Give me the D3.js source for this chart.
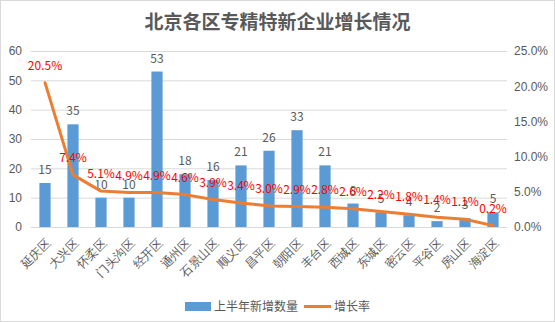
<!DOCTYPE html>
<html>
<head>
<meta charset="utf-8">
<script src="https://cdn.jsdelivr.net/npm/d3@7"></script>
<style>
  html, body { margin: 0; padding: 0; background: #fff; }
  svg { display: block; font-family: "Noto Sans CJK SC", "Noto Sans", sans-serif; }
</style>
</head>
<body>
<svg id="chart" width="555" height="322"></svg>
<script>
const districts = ["延庆区", "大兴区", "怀柔区", "门头沟区", "经开区", "通州区", "石景山区", "顺义区", "昌平区", "朝阳区", "丰台区", "西城区", "东城区", "密云区", "平谷区", "房山区", "海淀区"];
const newCount = [15, 35, 10, 10, 53, 18, 16, 21, 26, 33, 21, 8, 5, 4, 2, 3, 5];
const growthRate = [20.5, 7.4, 5.1, 4.9, 4.9, 4.6, 3.9, 3.4, 3.0, 2.9, 2.8, 2.6, 2.2, 1.8, 1.4, 1.1, 0.2];
const countTicks = [0, 10, 20, 30, 40, 50, 60];
const rateTicks = [0, 5, 10, 15, 20, 25];
const titleText = "北京各区专精特新企业增长情况";
const seriesNames = ["上半年新增数量", "增长率"];

const W = 555, H = 322;
const plot = { left: 31, right: 507, top: 51, bottom: 227 };
const barColor = "#5B9BD5", lineColor = "#ED7D31", textColor = "#595959";

const svg = d3.select("#chart");

svg.append("rect")
  .attr("x", 0.5).attr("y", 0.5).attr("width", W - 1).attr("height", H - 1)
  .attr("fill", "#fff").attr("stroke", "#d9d9d9");

svg.append("text")
  .attr("x", W / 2).attr("y", 29)
  .attr("text-anchor", "middle")
  .attr("font-size", 19).attr("font-weight", "bold")
  .attr("fill", textColor)
  .text(titleText);

const x = d3.scaleBand().domain(districts).range([plot.left, plot.right]).paddingInner(0.6).paddingOuter(0.3);
const xc = d => x(d) + x.bandwidth() / 2;
const yL = d3.scaleLinear().domain([0, 60]).range([plot.bottom, plot.top]);
const yR = d3.scaleLinear().domain([0, 25]).range([plot.bottom, plot.top]);

// gridlines
svg.append("g").selectAll("line").data(countTicks).join("line")
  .attr("x1", plot.left).attr("x2", plot.right)
  .attr("y1", d => yL(d) + 0.5).attr("y2", d => yL(d) + 0.5)
  .attr("stroke", "#d9d9d9").attr("stroke-width", 1);

// left axis
const leftAxis = svg.append("g").attr("transform", `translate(${plot.left - 9},0)`)
  .call(d3.axisLeft(yL).tickValues(countTicks).tickSize(0).tickPadding(0));
leftAxis.select(".domain").remove();
leftAxis.selectAll("text").attr("font-size", 12).attr("fill", textColor).attr("font-family", null);

// right axis
const rightAxis = svg.append("g").attr("transform", `translate(${plot.right + 7},0)`)
  .call(d3.axisRight(yR).tickValues(rateTicks).tickSize(0).tickPadding(0).tickFormat(d => d.toFixed(1) + "%"));
rightAxis.select(".domain").remove();
rightAxis.selectAll("text").attr("font-size", 12).attr("fill", textColor).attr("font-family", null);

// bottom axis labels
const bottomAxis = svg.append("g").attr("transform", `translate(0,${plot.bottom})`)
  .call(d3.axisBottom(x).tickSize(0).tickPadding(0));
bottomAxis.select(".domain").remove();
bottomAxis.selectAll("text")
  .attr("font-size", 12).attr("fill", textColor).attr("font-family", null)
  .attr("text-anchor", "end")
  .attr("dy", null).attr("y", 0)
  .attr("transform", "translate(6,17) rotate(-45)");

// bars
svg.append("g").selectAll("rect").data(districts).join("rect")
  .attr("x", d => x(d)).attr("width", x.bandwidth())
  .attr("y", (d, i) => yL(newCount[i]))
  .attr("height", (d, i) => yL(0) - yL(newCount[i]))
  .attr("fill", barColor);

// bar labels
svg.append("g").selectAll("text").data(districts).join("text")
  .attr("x", d => xc(d)).attr("y", (d, i) => yL(newCount[i]) - 9)
  .attr("text-anchor", "middle").attr("font-size", 12).attr("fill", textColor)
  .text((d, i) => newCount[i]);

// growth line
const line = d3.line().x(d => xc(d)).y((d, i) => yR(growthRate[i]));
svg.append("path").datum(districts)
  .attr("d", line)
  .attr("fill", "none").attr("stroke", lineColor).attr("stroke-width", 3)
  .attr("stroke-linejoin", "round").attr("stroke-linecap", "round");

// growth labels
svg.append("g").selectAll("text").data(districts).join("text")
  .attr("x", d => xc(d)).attr("y", (d, i) => yR(growthRate[i]) - 13)
  .attr("text-anchor", "middle").attr("font-size", 12).attr("fill", "#FF0000")
  .text((d, i) => growthRate[i].toFixed(1) + "%");

// legend
const lg = svg.append("g");
lg.append("rect").attr("x", 185).attr("y", 302).attr("width", 26).attr("height", 9).attr("fill", barColor);
lg.append("text").attr("x", 214).attr("y", 311).attr("font-size", 12).attr("fill", textColor).text(seriesNames[0]);
lg.append("line").attr("x1", 304).attr("x2", 331).attr("y1", 306.5).attr("y2", 306.5)
  .attr("stroke", lineColor).attr("stroke-width", 3);
lg.append("text").attr("x", 334).attr("y", 311).attr("font-size", 12).attr("fill", textColor).text(seriesNames[1]);
</script>
</body>
</html>
